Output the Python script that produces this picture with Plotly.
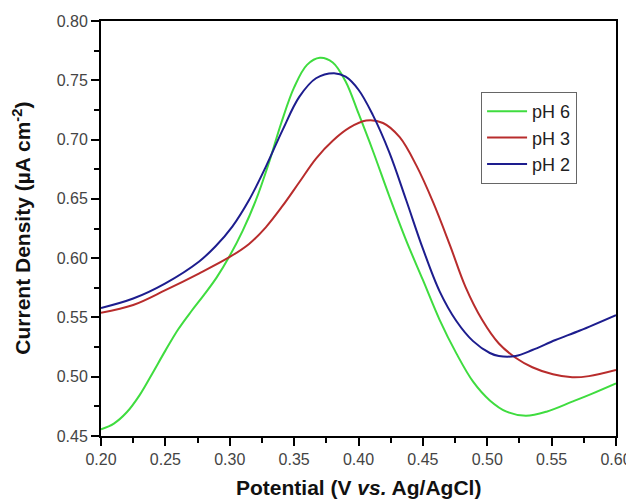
import plotly.graph_objects as go

# pH 6 (green)
x_g = [0.200, 0.210, 0.220, 0.230, 0.240, 0.250, 0.260, 0.270, 0.280, 0.290, 0.300, 0.310, 0.320, 0.330, 0.340,
       0.350, 0.360, 0.370, 0.380, 0.390, 0.400, 0.411, 0.424, 0.437, 0.450, 0.463, 0.476, 0.489, 0.502, 0.515,
       0.530, 0.546, 0.566, 0.582, 0.600]
y_g = [0.4556, 0.4605, 0.4700, 0.4845, 0.5030, 0.5220, 0.5400, 0.5550, 0.5690, 0.5840, 0.6020, 0.6230, 0.6480,
       0.6790, 0.7140, 0.7440, 0.7630, 0.7690, 0.7650, 0.7490, 0.7220, 0.6910, 0.6520, 0.6150, 0.5816, 0.5480,
       0.5197, 0.4958, 0.4800, 0.4705, 0.4671, 0.4705, 0.4790, 0.4860, 0.4944]

# pH 3 (red)
x_r = [0.200, 0.225, 0.250, 0.276, 0.300, 0.315, 0.328, 0.341, 0.354, 0.367, 0.380, 0.393, 0.406, 0.419,
       0.432, 0.445, 0.458, 0.471, 0.483, 0.496, 0.509, 0.522, 0.535, 0.551, 0.566, 0.579, 0.600]
y_r = [0.554, 0.5605, 0.573, 0.587, 0.601, 0.6120, 0.6260, 0.644, 0.664, 0.684, 0.699, 0.710, 0.7160, 0.7140,
       0.7020, 0.678, 0.647, 0.611, 0.576, 0.548, 0.528, 0.516, 0.508, 0.5020, 0.4995, 0.5005, 0.5057]

# pH 2 (blue)
x_b = [0.200, 0.225, 0.250, 0.276, 0.289, 0.302, 0.315, 0.328, 0.341, 0.354, 0.367, 0.381, 0.390, 0.400,
       0.411, 0.424, 0.437, 0.450, 0.463, 0.476, 0.489, 0.502, 0.509, 0.522, 0.535, 0.553, 0.572, 0.600]
y_b = [0.558, 0.566, 0.5788, 0.597, 0.610, 0.6266, 0.649, 0.677, 0.708, 0.736, 0.7517, 0.756, 0.753, 0.742,
       0.721, 0.689, 0.649, 0.608, 0.572, 0.547, 0.5300, 0.5200, 0.5175, 0.5175, 0.5225, 0.531, 0.539, 0.552]

x_ticks = [0.20, 0.25, 0.30, 0.35, 0.40, 0.45, 0.50, 0.55, 0.60]
y_ticks = [0.45, 0.50, 0.55, 0.60, 0.65, 0.70, 0.75, 0.80]
x_minor = [0.225, 0.275, 0.325, 0.375, 0.425, 0.475, 0.525, 0.575]
y_minor = [0.475, 0.525, 0.575, 0.625, 0.675, 0.725, 0.775]

fig = go.Figure()
fig.add_trace(go.Scatter(x=x_g, y=y_g, mode="lines", name="pH 6",
                         line=dict(color="#3fdc3f", width=2, shape="spline", smoothing=1.0)))
fig.add_trace(go.Scatter(x=x_r, y=y_r, mode="lines", name="pH 3",
                         line=dict(color="#b82c2c", width=2, shape="spline", smoothing=1.0)))
fig.add_trace(go.Scatter(x=x_b, y=y_b, mode="lines", name="pH 2",
                         line=dict(color="#1d1d8e", width=2, shape="spline", smoothing=1.0)))

font_family = "Liberation Sans, Arial, sans-serif"
axis_common = dict(showgrid=False, zeroline=False, showline=True, linecolor="black", linewidth=2,
                   mirror=True, ticks="outside", ticklen=8, tickwidth=2, tickcolor="black",
                   tickfont=dict(size=16, color="#444", family=font_family), automargin=False)

# the page body adds an 8px offset, so the margins compensate for it
fig.update_layout(
    width=634, height=500,
    margin=dict(l=93, r=26, t=13, b=72),
    paper_bgcolor="white", plot_bgcolor="white",
    font=dict(family=font_family, color="#333"),
    showlegend=True,
    legend=dict(x=0.738, y=0.829, xanchor="left", yanchor="top",
                bordercolor="#666", borderwidth=1, bgcolor="white",
                font=dict(size=18, color="#222", family=font_family),
                tracegroupgap=0, itemwidth=40),
    xaxis=dict(range=[0.20, 0.60], tickvals=x_ticks, ticktext=[f"{v:.2f}" for v in x_ticks],
               minor=dict(tickvals=x_minor, ticks="outside", ticklen=5, tickwidth=2, tickcolor="black"),
               **axis_common),
    yaxis=dict(range=[0.45, 0.80], tickvals=y_ticks, ticktext=[f"{v:.2f}" for v in y_ticks],
               minor=dict(tickvals=y_minor, ticks="outside", ticklen=5, tickwidth=2, tickcolor="black"),
               **axis_common),
    annotations=[
        dict(text="<b>Potential (V <i>vs.</i> Ag/AgCl)</b>", xref="paper", yref="paper",
             x=0.5, y=-0.125, xanchor="center", yanchor="middle", showarrow=False,
             font=dict(size=21, color="#111", family=font_family)),
        dict(text="<b>Current Density (µA cm<sup>-2</sup>)</b>", xref="paper", yref="paper",
             x=-0.155, y=0.5, xanchor="center", yanchor="middle", showarrow=False, textangle=-90,
             font=dict(size=21, color="#111", family=font_family)),
    ],
)

fig.write_html("out.html")
